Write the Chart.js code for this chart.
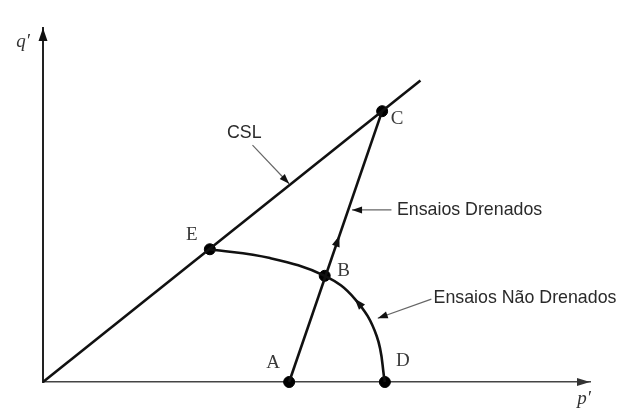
<!DOCTYPE html>
<html>
<head>
  <meta charset="UTF-8">
  <title>Trajetórias de tensões</title>
  <script src="https://cdn.jsdelivr.net/npm/chart.js"></script>
  <style>
    body { margin: 0; background: #fff; }
    #caixa { width: 621px; height: 414px; }
  </style>
</head>
<body>
  <div id="caixa"><canvas id="grafico"></canvas></div>
  <script>
    // linha de estado crítico (CSL)
    const cslP = [0, 6.9];
    const cslQ = [0, 8.52];
    // ensaio drenado: A -> C
    const drenadoP = [4.5, 6.2];
    const drenadoQ = [0, 7.65];
    // ensaio não drenado: curva de E até D passando por B
    const naoDrenadoP = [3.05, 4.15, 5.15, 5.7, 6.1, 6.25];
    const naoDrenadoQ = [3.75, 3.5, 3.0, 2.35, 1.3, 0];
    // pontos marcados
    const pontoNomes = ["A", "B", "C", "D", "E"];
    const pontoP = [4.5, 5.15, 6.2, 6.25, 3.05];
    const pontoQ = [0, 3.0, 7.65, 0, 3.75];
    // notas com setas
    const notaTextos = ["CSL", "Ensaios Drenados", "Ensaios Não Drenados"];

    const junta = (ps, qs) => ps.map((p, i) => ({ x: p, y: qs[i] }));

    // ponta de seta cheia, com a ponta em (x, y)
    function seta(ctx, x, y, ang, comp, larg) {
      ctx.save();
      ctx.translate(x, y);
      ctx.rotate(ang);
      ctx.beginPath();
      ctx.moveTo(0, 0);
      ctx.lineTo(-comp, -larg / 2);
      ctx.lineTo(-comp, larg / 2);
      ctx.closePath();
      ctx.fill();
      ctx.restore();
    }

    const desenhos = {
      id: "desenhos",
      afterDraw(chart, args, opts) {
        const ctx = chart.ctx;
        const a = chart.chartArea;
        const sx = chart.scales.x, sy = chart.scales.y;
        ctx.save();

        // setas dos eixos
        ctx.fillStyle = "#111";
        seta(ctx, a.left, a.top, -Math.PI / 2, 13, 9);
        ctx.fillStyle = "#333";
        seta(ctx, a.right, a.bottom, 0, 13, 8);

        // seta sobre a trajetória drenada
        ctx.fillStyle = "#111";
        const dr = chart.getDatasetMeta(1).data;
        const f = opts.fracDrenado;
        const ang1 = Math.atan2(dr[1].y - dr[0].y, dr[1].x - dr[0].x);
        seta(ctx, dr[0].x + (dr[1].x - dr[0].x) * f, dr[0].y + (dr[1].y - dr[0].y) * f, ang1, 11, 8);

        // seta sobre a trajetória não drenada (sentido D -> E)
        const nd = chart.getDatasetMeta(2).data[opts.pontoSetaCurva];
        const ang2 = Math.atan2(nd.cp1y - nd.y, nd.cp1x - nd.x);
        seta(ctx, nd.x, nd.y, ang2, 11, 8);

        // notas e setas indicadoras
        opts.notas.forEach((n, i) => {
          const x0 = sx.getPixelForValue(n.ini[0]), y0 = sy.getPixelForValue(n.ini[1]);
          const x1 = sx.getPixelForValue(n.fim[0]), y1 = sy.getPixelForValue(n.fim[1]);
          ctx.strokeStyle = "#666";
          ctx.lineWidth = 1.2;
          ctx.beginPath();
          ctx.moveTo(x0, y0);
          ctx.lineTo(x1, y1);
          ctx.stroke();
          ctx.fillStyle = "#111";
          seta(ctx, x1, y1, Math.atan2(y1 - y0, x1 - x0), 10, 7);
          ctx.fillStyle = "#2a2a2a";
          ctx.font = "17.8px 'Liberation Sans', Arial, sans-serif";
          ctx.textAlign = n.alinha;
          ctx.textBaseline = "middle";
          ctx.fillText(notaTextos[i], sx.getPixelForValue(n.texto[0]), sy.getPixelForValue(n.texto[1]));
        });

        // letras dos pontos
        ctx.fillStyle = "#3a3a3a";
        ctx.font = "19px 'Liberation Serif', 'Times New Roman', serif";
        ctx.textAlign = "center";
        ctx.textBaseline = "middle";
        pontoNomes.forEach((nome, i) => {
          const d = opts.desvioLetras[nome];
          ctx.fillText(nome, sx.getPixelForValue(pontoP[i]) + d[0], sy.getPixelForValue(pontoQ[i]) + d[1]);
        });

        // nomes dos eixos
        ctx.font = "italic 19px 'Liberation Serif', 'Times New Roman', serif";
        ctx.fillStyle = "#333";
        ctx.fillText("q\u2032", a.left - 20, a.top + 14);
        ctx.fillText("p\u2032", a.right - 6, a.bottom + 17);
        ctx.restore();
      }
    };

    const linha = (dados, extra) => Object.assign({
      data: dados,
      borderColor: "#111",
      borderWidth: 2.6,
      pointRadius: 0,
      tension: 0,
      clip: false,
      showLine: true
    }, extra);

    new Chart(document.getElementById("grafico"), {
      type: "scatter",
      data: {
        datasets: [
          linha(junta(cslP, cslQ)),
          linha(junta(drenadoP, drenadoQ)),
          linha(junta(naoDrenadoP, naoDrenadoQ), { tension: 0.4 }),
          {
            data: junta(pontoP, pontoQ),
            pointRadius: 5.5,
            pointBackgroundColor: "#000",
            pointBorderColor: "#000",
            showLine: false,
            clip: false
          }
        ]
      },
      options: {
        responsive: true,
        maintainAspectRatio: false,
        animation: false,
        layout: { padding: { left: 35, right: 31, top: 28, bottom: 24 } },
        scales: {
          x: {
            type: "linear", min: 0, max: 10,
            grid: { display: false },
            ticks: { display: false },
            border: { display: true, color: "#444", width: 1.6 }
          },
          y: {
            type: "linear", min: 0, max: 10,
            grid: { display: false },
            ticks: { display: false },
            border: { display: true, color: "#222", width: 2 }
          }
        },
        plugins: {
          legend: { display: false },
          tooltip: { enabled: false },
          desenhos: {
            fracDrenado: 0.54,
            pontoSetaCurva: 3,
            desvioLetras: { A: [-16, -19], B: [19, -5], C: [15, 8], D: [18, -21], E: [-18, -14] },
            notas: [
              { texto: [3.68, 7.03], alinha: "center", ini: [3.83, 6.69], fim: [4.5, 5.6] },
              { texto: [6.47, 4.86], alinha: "left", ini: [6.37, 4.86], fim: [5.65, 4.86] },
              { texto: [7.14, 2.37], alinha: "left", ini: [7.1, 2.34], fim: [6.12, 1.8] }
            ]
          }
        }
      },
      plugins: [desenhos]
    });
  </script>
</body>
</html>
